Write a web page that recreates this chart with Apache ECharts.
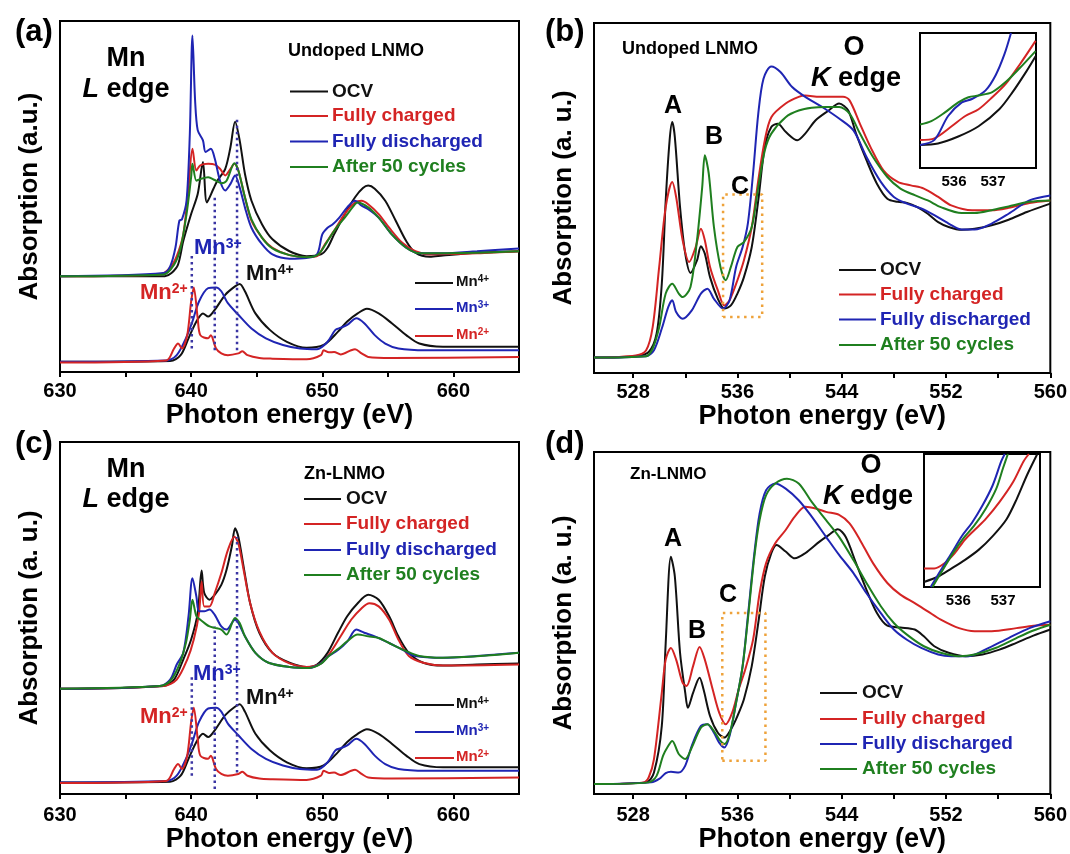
<!DOCTYPE html>
<html><head><meta charset="utf-8">
<script src="https://cdn.jsdelivr.net/npm/echarts@6/dist/echarts.min.js"></script>
<style>html,body{margin:0;padding:0;background:#fff}#c{width:1070px;height:854px}</style>
</head><body><div id="c"></div>
<script>
// ---------- tick labels ----------
const mnLabels = [630, 640, 650, 660];
const mnTicks = [630, 635, 640, 645, 650, 655, 660];
const oLabels = [528, 536, 544, 552, 560];
const oTicks = [528, 532, 536, 540, 544, 548, 552, 556, 560];
const insetLabels = [536, 537];

// ---------- (a) Undoped LNMO, Mn L edge ----------
const a_ocv = [[630,27.3],[638,27.3],[638.5,28.2],[639,30.6],[639.4,37.3],[640,45.0],[640.5,50.7],[640.9,59.8],[641.2,48.3],[641.7,52.2],[642.0,54.5],[642.6,57.9],[643.0,64.1],[643.35,71.3],[643.7,66.0],[644.1,56.5],[644.6,48.8],[645.4,42.1],[646.2,37.8],[647.5,34.4],[648.8,33.0],[649.9,33.5],[650.4,35.4],[650.9,39.2],[651.7,44.9],[652.5,49.8],[653.1,52.4],[653.5,53.1],[654.0,52.2],[654.8,48.8],[655.6,43.1],[656.4,37.3],[657.1,34.0],[658.2,32.8],[659.2,33.2],[661.8,34.0],[665,34.4]];
const a_chg = [[630,27.3],[637.6,27.8],[638.4,29.7],[638.9,33.0],[639.4,39.2],[639.8,52.6],[640.1,63.6],[640.4,57.4],[640.7,58.9],[641.3,59.3],[641.8,59.1],[642.2,57.9],[642.6,56.0],[643.0,57.9],[643.3,59.3],[643.6,57.4],[644.1,49.8],[644.6,43.1],[645.4,38.3],[646.2,35.4],[647.5,33.3],[648.8,32.7],[649.6,33.0],[650.2,36.4],[650.9,40.2],[651.7,45.0],[652.5,48.3],[653.0,48.8],[653.5,47.8],[654.3,45.0],[655.1,41.1],[656.1,36.8],[657.1,34.4],[658.2,33.5],[661.8,33.8],[665,34.4]];
const a_dis = [[630,27.3],[637.9,28.2],[638.4,30.1],[638.8,35.4],[639.1,43.1],[639.3,43.5],[639.65,48.8],[639.9,67.9],[640.1,95.9],[640.3,77.5],[640.5,68.9],[640.9,66.0],[641.1,62.7],[641.5,63.6],[641.8,60.8],[642.2,54.5],[642.6,51.7],[643.0,53.6],[643.35,56.0],[643.7,52.6],[644.1,46.9],[644.6,41.1],[645.4,36.4],[646.2,33.5],[647.5,32.3],[648.8,32.5],[649.6,33.5],[650.0,39.2],[650.4,41.1],[650.8,42.1],[651.3,44.0],[651.9,46.9],[652.5,48.8],[653.0,47.4],[653.5,46.4],[654.3,44.0],[655.3,39.2],[656.4,35.4],[657.4,33.8],[659.2,33.8],[661.8,34.4],[665,35.2]];
const a_cyc = [[630,27.3],[637.9,27.8],[638.7,30.6],[639.2,35.4],[639.65,45.0],[640.0,55.5],[640.1,59.3],[640.4,54.5],[640.7,55.0],[641.3,55.5],[641.8,54.7],[642.3,53.8],[642.7,54.5],[643.3,59.5],[643.6,57.4],[644.1,49.8],[644.6,43.5],[645.4,38.3],[646.2,35.2],[647.5,33.3],[648.8,32.7],[649.7,33.5],[650.4,37.3],[651.0,40.7],[651.7,43.9],[652.5,47.8],[652.7,48.3],[653.5,46.9],[654.3,44.0],[655.3,39.2],[656.4,35.4],[657.4,33.8],[661.8,34.0],[665,34.4]];
// reference spectra (same in (a) and (c))
const ref_mn4 = [[630,2.9],[638.4,3.1],[639.2,4.8],[639.8,9.6],[640.4,14.4],[640.9,16.7],[641.3,15.8],[641.8,17.7],[642.6,22.0],[643.35,24.4],[643.7,25.1],[644.1,23.0],[644.9,16.7],[646.0,12.0],[647.3,8.6],[648.8,6.9],[650.1,7.7],[651.2,11.5],[651.9,14.4],[652.7,16.7],[653.4,18.0],[654.3,16.7],[655.3,13.9],[656.4,10.5],[657.4,8.1],[659.2,7.2],[665,7.2]];
const ref_mn3 = [[630,2.9],[638.1,3.3],[638.9,4.8],[639.6,9.6],[640.1,14.4],[640.6,20.1],[641.3,23.9],[641.9,24.1],[642.3,23.0],[642.8,19.6],[643.6,16.3],[644.6,12.4],[645.7,9.6],[647.0,7.7],[648.3,6.7],[649.6,6.5],[650.4,8.6],[651.0,12.0],[651.4,12.6],[651.9,13.4],[652.6,15.3],[653.2,13.9],[654.0,10.5],[654.8,8.1],[655.8,6.7],[657.9,6.2],[665,6.2]];
const ref_mn2 = [[630,2.7],[638.1,3.3],[638.7,6.7],[639.0,8.1],[639.3,6.7],[639.7,10.5],[640.0,20.1],[640.2,24.1],[640.5,15.3],[640.7,10.5],[641.3,9.6],[641.5,10.5],[641.9,6.7],[642.3,5.3],[642.8,4.8],[643.6,5.3],[643.9,5.9],[644.3,4.8],[645.2,4.0],[646.2,3.8],[648.8,3.6],[649.9,4.8],[650.1,6.2],[650.5,5.6],[650.9,5.7],[651.4,5.0],[652.2,6.2],[652.5,6.5],[653.0,5.3],[653.5,4.3],[655.3,4.0],[665,4.3]];
// dotted guide lines: [energy, bottom, top]
const a_guides = [[640.05,6.7,33.5],[641.8,6.2,50.2],[643.5,6.2,72.7]];

// ---------- (b) Undoped LNMO, O K edge ----------
const b_ocv = [[525,4.4],[528.2,4.8],[529.2,6.0],[529.8,11.2],[530.2,25.5],[530.5,49.3],[530.8,66.5],[531.0,71.7],[531.2,67.4],[531.6,47.4],[532.0,34.1],[532.4,28.6],[532.9,32.2],[533.2,36.2],[533.5,34.1],[533.9,27.4],[534.5,21.2],[535.0,18.4],[535.5,19.3],[536.0,22.7],[536.5,27.4],[537.1,36.0],[537.6,49.3],[538.1,64.6],[538.6,70.3],[539.1,71.2],[539.7,68.9],[540.6,66.5],[541.2,68.4],[542.0,72.2],[543.0,75.0],[543.8,77.0],[544.5,75.0],[545.1,68.4],[545.9,60.8],[546.7,54.1],[547.5,49.8],[548.3,48.9],[549.0,48.6],[549.8,47.4],[550.6,45.5],[551.4,43.1],[552.2,41.7],[553.2,40.9],[554.2,41.2],[555.5,42.2],[556.8,43.8],[558.2,46.0],[560,48.4]];
const b_chg = [[525,4.4],[528.2,5.0],[529.0,6.5],[529.5,13.1],[530.0,30.3],[530.5,47.4],[531.0,54.6],[531.3,50.3],[531.8,37.9],[532.3,31.7],[532.8,36.0],[533.2,41.2],[533.5,37.9],[533.9,30.3],[534.5,23.6],[535.0,19.3],[535.4,20.8],[536.0,26.5],[536.5,32.2],[537.1,41.7],[537.6,55.0],[538.1,66.5],[538.6,73.1],[539.7,77.0],[540.7,78.9],[541.2,79.3],[542.3,78.9],[543.3,78.9],[544.1,78.9],[544.6,77.9],[545.4,71.2],[546.2,64.6],[547.2,57.9],[548.3,54.6],[549.3,53.6],[550.3,52.7],[551.4,50.3],[552.4,47.9],[554.0,46.5],[555.5,46.5],[556.8,47.2],[558.4,48.6],[560,49.3]];
const b_dis = [[525,4.4],[529.0,4.8],[529.6,6.5],[530.2,12.7],[530.7,18.9],[531.0,20.8],[531.3,17.4],[531.8,15.5],[532.5,17.9],[533.2,22.7],[533.7,24.1],[534.2,21.2],[534.9,18.4],[535.4,20.8],[535.9,30.3],[536.4,36.0],[536.8,42.7],[537.2,57.0],[537.6,74.1],[538.0,84.1],[538.6,87.6],[539.3,86.0],[540.2,81.7],[541.2,78.9],[542.5,76.0],[543.8,72.7],[544.9,69.3],[545.9,61.7],[547.0,54.6],[548.0,50.3],[549.0,48.4],[550.1,47.0],[551.1,45.1],[552.2,42.7],[553.2,41.0],[554.2,41.0],[555.5,42.7],[556.8,45.5],[558.4,49.3],[560,50.7]];
const b_cyc = [[525,4.4],[529.0,4.8],[529.5,7.0],[530.0,13.1],[530.5,22.7],[531.0,25.5],[531.5,22.7],[531.8,21.7],[532.4,24.6],[532.9,37.9],[533.3,53.1],[533.5,62.2],[533.8,57.0],[534.2,41.7],[534.7,30.3],[535.1,26.5],[535.5,30.3],[536.0,36.0],[536.5,37.4],[537.1,41.7],[537.6,53.1],[538.1,63.6],[538.6,68.4],[539.7,73.1],[540.7,75.0],[541.7,75.8],[542.8,76.0],[543.8,76.0],[544.6,74.1],[545.4,68.4],[546.4,61.7],[547.5,56.0],[548.5,52.7],[549.6,50.8],[550.6,49.3],[551.6,47.4],[553.2,45.7],[554.2,45.7],[555.5,46.5],[556.8,47.6],[558.4,48.9],[560,49.3]];
// dashed box "C": [e1, e2, lo, hi]
const b_box = [534.9, 537.9, 16.0, 51.0];
// inset (b)
const bi_ocv = [[535.13,17.0],[535.59,18.2],[536.11,23.3],[536.63,30.9],[537.16,43.5],[537.5,56.2],[537.85,71.4],[538.09,82.8]];
const bi_chg = [[535.13,20.8],[535.5,22.0],[535.94,30.9],[536.29,38.5],[536.63,43.5],[536.98,52.4],[537.33,62.5],[537.68,76.5],[538.09,94.2]];
const bi_dis = [[535.13,17.0],[535.5,20.8],[535.85,38.5],[536.2,48.6],[536.46,51.1],[536.81,57.5],[537.07,68.9],[537.29,84.1],[537.46,100]];
const bi_cyc = [[535.13,32.2],[535.42,34.7],[535.76,41.0],[536.11,48.6],[536.37,52.4],[536.63,53.7],[536.98,56.2],[537.33,63.8],[537.68,73.9],[538.09,86.6]];

// ---------- (c) Zn-LNMO, Mn L edge ----------
const c_ocv = [[630,29.9],[637.9,30.7],[638.7,32.5],[639.4,38.2],[640.0,43.9],[640.5,51.4],[640.8,63.5],[641.0,57.1],[641.4,55.2],[641.8,56.6],[642.3,59.4],[642.7,63.7],[643.1,70.3],[643.35,75.5],[643.6,73.1],[644.0,64.6],[644.5,54.2],[645.2,45.8],[646.2,40.1],[647.5,37.3],[648.8,36.1],[649.6,36.8],[650.4,40.1],[651.2,45.8],[651.9,50.5],[652.7,54.2],[653.5,56.6],[654.3,55.2],[655.1,50.5],[655.8,44.8],[656.6,40.1],[657.7,37.3],[659.2,36.5],[661.8,36.8],[665,37.1]];
const c_chg = [[630,29.9],[637.9,30.7],[638.9,32.5],[639.7,38.2],[640.2,43.9],[640.6,51.4],[640.8,60.4],[641.0,53.3],[641.4,53.3],[641.8,57.1],[642.3,62.7],[642.8,69.3],[643.3,73.1],[643.6,71.2],[644.0,63.7],[644.5,54.2],[645.2,46.2],[646.2,40.1],[647.5,37.1],[648.8,36.1],[649.9,37.1],[650.6,40.1],[651.4,44.8],[652.2,49.5],[653.0,52.8],[653.6,54.2],[654.3,53.3],[655.1,49.5],[655.8,43.9],[656.6,39.2],[657.7,37.3],[659.2,36.5],[665,36.8]];
const c_dis = [[630,29.9],[637.6,30.7],[638.4,32.5],[638.9,36.8],[639.4,40.1],[639.8,50.5],[640.1,61.3],[640.4,56.1],[640.6,51.9],[641.0,51.9],[641.4,52.4],[641.8,50.9],[642.3,47.6],[642.7,46.7],[643.35,49.5],[643.6,48.6],[644.1,44.8],[644.9,40.1],[645.9,37.3],[647.5,36.1],[649.0,35.8],[649.9,37.1],[650.4,39.0],[651.2,40.9],[651.9,43.3],[652.6,46.7],[653.2,45.8],[654.0,44.8],[655.1,42.9],[656.1,41.0],[657.1,39.2],[659.2,38.7],[661.8,39.2],[665,40.1]];
const c_cyc = [[630,29.9],[637.6,30.7],[638.4,32.1],[639.05,36.3],[639.6,42.9],[639.9,49.5],[640.1,55.2],[640.4,50.5],[640.7,49.5],[641.0,48.6],[641.4,47.6],[641.8,47.2],[642.3,46.7],[642.7,45.3],[643.35,50.0],[643.7,48.6],[644.1,44.8],[644.9,40.1],[645.9,37.3],[647.5,36.1],[649.0,35.8],[649.9,37.0],[650.5,39.2],[651.3,41.5],[651.9,43.4],[652.7,45.3],[653.5,44.8],[654.3,44.3],[655.3,42.5],[656.4,40.6],[657.4,39.2],[659.2,38.7],[665,40.1]];
const c_guides = [[640.05,5.2,34.0],[641.8,1.4,47.6],[643.5,6.1,73.0]];

// ---------- (d) Zn-LNMO, O K edge ----------
const d_ocv = [[525,2.9],[529.0,3.4],[529.6,6.3],[530.2,19.9],[530.5,44.2],[530.9,69.4],[531.2,63.6],[531.6,41.3],[532.0,29.6],[532.2,25.2],[532.6,29.6],[533.1,34.0],[533.4,30.6],[533.9,22.8],[534.5,17.9],[535.0,16.5],[535.5,18.9],[536.0,22.8],[536.5,27.7],[537.1,37.4],[537.6,50.0],[538.1,63.6],[538.6,70.4],[539.0,72.8],[539.7,70.9],[540.4,68.9],[541.2,70.4],[542.3,73.8],[543.0,75.7],[543.7,77.4],[544.3,75.2],[545.1,67.5],[545.9,59.7],[546.7,52.9],[547.5,49.2],[548.5,48.7],[549.6,48.1],[550.3,46.1],[551.1,43.2],[552.2,41.3],[553.5,40.3],[554.8,40.8],[556.1,42.2],[557.4,44.2],[558.7,46.3],[560,48.1]];
const d_chg = [[525,2.9],[528.8,3.4],[529.2,4.9],[529.6,10.2],[530.2,29.6],[530.5,39.3],[530.9,42.7],[531.3,39.3],[531.8,32.5],[532.1,31.6],[532.6,37.4],[533.1,43.0],[533.5,39.3],[534.1,30.6],[534.6,23.8],[535.1,20.4],[535.6,23.8],[536.1,30.6],[536.6,36.4],[537.2,45.1],[537.7,58.7],[538.2,67.5],[538.9,73.3],[539.7,77.2],[540.4,81.1],[541.2,84.0],[542.0,83.5],[542.8,82.5],[543.8,81.6],[544.6,79.1],[545.4,74.3],[546.4,67.5],[547.5,61.7],[548.5,58.3],[549.6,55.8],[550.6,53.4],[551.6,51.0],[553.0,48.5],[554.2,47.6],[555.5,47.6],[557.4,48.5],[558.7,49.2],[560,49.5]];
const d_dis = [[525,2.9],[529.4,3.4],[530.0,4.4],[530.5,6.1],[530.9,6.5],[531.5,6.3],[532.0,8.3],[532.5,14.1],[533.2,19.9],[533.7,20.4],[534.2,17.9],[534.6,15.0],[535.0,13.6],[535.4,17.0],[535.9,26.7],[536.4,37.4],[536.8,51.9],[537.3,70.4],[537.7,82.0],[538.2,88.8],[538.9,90.8],[539.7,89.3],[540.7,85.9],[541.7,81.1],[542.8,75.2],[543.8,69.9],[544.9,64.6],[545.9,58.7],[547.0,52.9],[548.0,48.1],[549.0,45.1],[550.1,42.7],[551.4,40.8],[552.4,40.3],[553.7,40.3],[555.0,42.2],[556.8,45.6],[558.4,48.5],[560,50.5]];
const d_cyc = [[525,2.9],[529.2,3.4],[529.8,5.3],[530.3,11.2],[530.7,14.1],[531.0,15.5],[531.5,11.7],[532.0,10.2],[532.5,13.6],[533.2,19.4],[533.7,20.4],[534.2,18.4],[534.7,15.5],[535.0,14.6],[535.4,17.5],[535.9,26.7],[536.4,37.4],[536.8,51.0],[537.3,69.4],[537.7,80.1],[538.2,87.4],[538.9,90.8],[539.8,92.2],[540.7,90.8],[541.7,85.4],[542.8,80.1],[543.8,75.2],[544.9,68.4],[545.9,61.7],[547.0,54.9],[548.0,50.0],[549.0,46.6],[550.3,43.2],[551.6,41.3],[553.0,40.3],[554.2,40.8],[555.8,42.7],[557.4,45.6],[558.7,47.8],[560,49.5]];
const d_box = [534.84, 538.15, 9.7, 52.9];
// inset (d)
const di_ocv = [[535.23,3.8],[535.54,7.7],[535.85,14.0],[536.15,20.4],[536.46,28.1],[536.77,38.3],[537.08,51.0],[537.31,66.3],[537.54,84.2],[537.77,100]];
const di_chg = [[535.23,14.0],[535.46,14.0],[535.69,17.9],[535.92,25.5],[536.15,35.7],[536.38,43.4],[536.61,51.0],[536.92,63.8],[537.23,79.1],[537.46,94.4],[537.58,100]];
const di_dis = [[535.38,0],[535.61,12.8],[535.85,25.5],[536.08,38.3],[536.31,48.5],[536.54,61.2],[536.77,76.5],[536.96,94.4],[537.04,100]];
const di_cyc = [[535.42,0],[535.65,12.8],[535.88,25.5],[536.12,37.0],[536.35,45.9],[536.61,58.7],[536.85,74.0],[537.0,89.3],[537.11,100]];

// ---------- styling ----------
const FF = '"Liberation Sans", Arial, Helvetica, sans-serif';
const K = '#111111', R = '#d42424', B = '#1f25b3', G = '#1f7f1f', DOT = '#3b35a3', OR = '#eea23a';
const fnt = (s, it) => (it ? 'italic ' : '') + 'bold ' + s + 'px ' + FF;

const grids = [
  {left: 60, top: 21, width: 459, height: 351},
  {left: 594, top: 23, width: 458, height: 350},
  {left: 60, top: 442, width: 459, height: 352},
  {left: 594, top: 452, width: 458, height: 342},
  {left: 920, top: 33, width: 116, height: 135},
  {left: 924, top: 454, width: 116, height: 133}
].map(g => Object.assign({show: true, borderColor: '#000', borderWidth: 2, backgroundColor: '#fff', containLabel: false}, g));

function xAx(gi, min, max, labels, ticks, labelMargin, nameGap, isInset) {
  return {
    type: 'value', gridIndex: gi, min: min, max: max,
    axisLine: {show: true, onZero: false, lineStyle: {color: '#000', width: 2}},
    axisTick: isInset ? {show: false} : {show: true, inside: false, length: 5, customValues: ticks, lineStyle: {color: '#000', width: 2}},
    axisLabel: {show: true, customValues: labels, margin: labelMargin, color: '#000',
      fontSize: isInset ? 15 : 20, fontWeight: 'bold', fontFamily: FF},
    splitLine: {show: false},
    name: isInset ? '' : 'Photon energy (eV)', nameLocation: 'middle', nameGap: nameGap,
    nameTextStyle: {fontSize: 27, fontWeight: 'bold', color: '#000', fontFamily: FF}
  };
}
function yAx(gi, name, isInset) {
  return {
    type: 'value', gridIndex: gi, min: 0, max: 100,
    axisLine: {show: true, lineStyle: {color: '#000', width: 2}},
    axisTick: {show: false}, axisLabel: {show: false}, splitLine: {show: false},
    name: isInset ? '' : name, nameLocation: 'middle', nameGap: 17,
    nameTextStyle: {fontSize: 26, fontWeight: 'bold', color: '#000', fontFamily: FF}
  };
}

const xAxis = [
  xAx(0, 630, 665, mnLabels, mnTicks, 9, 27),
  xAx(1, 525, 560, oLabels, oTicks, 9, 27),
  xAx(2, 630, 665, mnLabels, mnTicks, 11, 31),
  xAx(3, 525, 560, oLabels, oTicks, 11, 31),
  xAx(4, 535.13, 538.1, insetLabels, [], 6, 0, true),
  xAx(5, 535.23, 537.83, insetLabels, [], 6, 0, true)
];
const yAxis = [
  yAx(0, 'Absorption (a.u.)'), yAx(1, 'Absorption (a. u.)'),
  yAx(2, 'Absorption (a. u.)'), yAx(3, 'Absorption (a. u.)'),
  yAx(4, '', true), yAx(5, '', true)
];

const series = [];
function line(name, data, color, gi, extra) {
  series.push(Object.assign({
    type: 'line', name: name, data: data, xAxisIndex: gi, yAxisIndex: gi,
    showSymbol: false, symbol: 'none', smooth: 0.3, silent: true, animation: false,
    lineStyle: {color: color, width: 2}, itemStyle: {color: color}, z: 3
  }, extra || {}));
}
function guides(arr, gi) {
  arr.forEach(g => line('guide', [[g[0], g[1]], [g[0], g[2]]], DOT, gi,
    {smooth: false, lineStyle: {color: DOT, width: 2.5, type: [2.5, 3.5]}, z: 4}));
}
function box(b, gi) {
  line('box C', [[b[0], b[2]], [b[1], b[2]], [b[1], b[3]], [b[0], b[3]], [b[0], b[2]]], OR, gi,
    {smooth: false, lineStyle: {color: OR, width: 2.5, type: [2.5, 4.5]}, z: 4});
}
// (a)
line('Mn4+', ref_mn4, K, 0); line('Mn3+', ref_mn3, B, 0); line('Mn2+', ref_mn2, R, 0);
line('OCV', a_ocv, K, 0); line('Fully charged', a_chg, R, 0); line('Fully discharged', a_dis, B, 0); line('After 50 cycles', a_cyc, G, 0);
guides(a_guides, 0);
// (b)
line('OCV', b_ocv, K, 1); line('Fully charged', b_chg, R, 1); line('Fully discharged', b_dis, B, 1); line('After 50 cycles', b_cyc, G, 1);
box(b_box, 1);
line('OCV', bi_ocv, K, 4); line('Fully charged', bi_chg, R, 4); line('Fully discharged', bi_dis, B, 4); line('After 50 cycles', bi_cyc, G, 4);
// (c)
line('Mn4+', ref_mn4.map(p => [p[0], p[1] + 0.4]), K, 2); line('Mn3+', ref_mn3.map(p => [p[0], p[1] + 0.4]), B, 2); line('Mn2+', ref_mn2.map(p => [p[0], p[1] + 0.4]), R, 2);
line('OCV', c_ocv, K, 2); line('Fully charged', c_chg, R, 2); line('Fully discharged', c_dis, B, 2); line('After 50 cycles', c_cyc, G, 2);
guides(c_guides, 2);
// (d)
line('OCV', d_ocv, K, 3); line('Fully charged', d_chg, R, 3); line('Fully discharged', d_dis, B, 3); line('After 50 cycles', d_cyc, G, 3);
box(d_box, 3);
line('OCV', di_ocv, K, 5); line('Fully charged', di_chg, R, 5); line('Fully discharged', di_dis, B, 5); line('After 50 cycles', di_cyc, G, 5);

// ---------- annotations ----------
const graphic = [];
function txt(x, y, text, size, color, align, italic) {
  graphic.push({type: 'text', x: x, y: y, z: 20, silent: true,
    style: {text: text, font: fnt(size, italic), fill: color || '#000', align: align || 'left', verticalAlign: 'middle'}});
}
function rich(x, y, parts, align) {
  const richDef = {}; let s = '';
  parts.forEach((p, i) => {
    const k = 't' + i;
    richDef[k] = {font: fnt(p[1], p[3]), fill: p[2], verticalAlign: p[4] ? 'top' : 'bottom'};
    s += '{' + k + '|' + p[0] + '}';
  });
  graphic.push({type: 'text', x: x, y: y, z: 20, silent: true,
    style: {text: s, rich: richDef, align: align || 'left', verticalAlign: 'middle'}});
}
function leg(x1, x2, tx, y, text, color, size) {
  graphic.push({type: 'line', z: 20, silent: true, shape: {x1: x1, y1: y, x2: x2, y2: y}, style: {stroke: color, lineWidth: 2}});
  txt(tx, y, text, size, color, 'left');
}
function legSup(x1, x2, tx, y, base, sup, color) {
  graphic.push({type: 'line', z: 20, silent: true, shape: {x1: x1, y1: y, x2: x2, y2: y}, style: {stroke: color, lineWidth: 2}});
  rich(tx, y - 1, [[base, 15, color], [sup, 10, color, false, true]]);
}
const LEG = ['OCV', 'Fully charged', 'Fully discharged', 'After 50 cycles'];
const LCOL = [K, R, B, G];

// panel letters
txt(15, 32, '(a)', 31); txt(545, 32, '(b)', 31); txt(15, 444, '(c)', 31); txt(545, 444, '(d)', 31);

// (a)
txt(126, 59, 'Mn', 27, '#000', 'center');
rich(126, 90, [['L', 27, '#000', true], [' edge', 27, '#000']], 'center');
txt(288, 51, 'Undoped LNMO', 18);
[91.5, 116, 141.5, 167].forEach((y, i) => leg(290, 328, 332, y, LEG[i], LCOL[i], 19));
rich(194, 248, [['Mn', 22, B], ['3+', 14, B, false, true]]);
rich(246, 274, [['Mn', 22, K], ['4+', 14, K, false, true]]);
rich(140, 293, [['Mn', 22, R], ['2+', 14, R, false, true]]);
legSup(415, 453, 456, 283, 'Mn', '4+', K);
legSup(415, 453, 456, 309, 'Mn', '3+', B);
legSup(415, 453, 456, 336, 'Mn', '2+', R);

// (b)
txt(622, 49, 'Undoped LNMO', 18);
txt(854, 48, 'O', 27, '#000', 'center');
rich(856, 79, [['K', 27, '#000', true], [' edge', 27, '#000']], 'center');
txt(673, 106, 'A', 25, '#000', 'center');
txt(714, 137, 'B', 25, '#000', 'center');
txt(740, 187, 'C', 25, '#000', 'center');
[270, 294.5, 319.5, 345].forEach((y, i) => leg(839, 876, 880, y, LEG[i], LCOL[i], 19));

// (c)
txt(126, 470, 'Mn', 27, '#000', 'center');
rich(126, 500, [['L', 27, '#000', true], [' edge', 27, '#000']], 'center');
txt(304, 474, 'Zn-LNMO', 18);
[499, 524, 550, 575].forEach((y, i) => leg(304, 341, 346, y, LEG[i], LCOL[i], 19));
rich(193, 674, [['Mn', 22, B], ['3+', 14, B, false, true]]);
rich(246, 698, [['Mn', 22, K], ['4+', 14, K, false, true]]);
rich(140, 717, [['Mn', 22, R], ['2+', 14, R, false, true]]);
legSup(415, 454, 456, 705, 'Mn', '4+', K);
legSup(415, 454, 456, 732, 'Mn', '3+', B);
legSup(415, 454, 456, 758, 'Mn', '2+', R);

// (d)
txt(630, 474, 'Zn-LNMO', 17);
txt(871, 466, 'O', 27, '#000', 'center');
rich(868, 497, [['K', 27, '#000', true], [' edge', 27, '#000']], 'center');
txt(673, 539, 'A', 25, '#000', 'center');
txt(697, 631, 'B', 25, '#000', 'center');
txt(728, 595, 'C', 25, '#000', 'center');
[693, 719, 744, 769].forEach((y, i) => leg(820, 857, 862, y, LEG[i], LCOL[i], 19));

const chart = echarts.init(document.getElementById('c'), null, {renderer: 'canvas'});
chart.setOption({
  animation: false,
  backgroundColor: '#fff',
  textStyle: {fontFamily: FF},
  grid: grids, xAxis: xAxis, yAxis: yAxis, series: series, graphic: graphic
});
</script></body></html>
